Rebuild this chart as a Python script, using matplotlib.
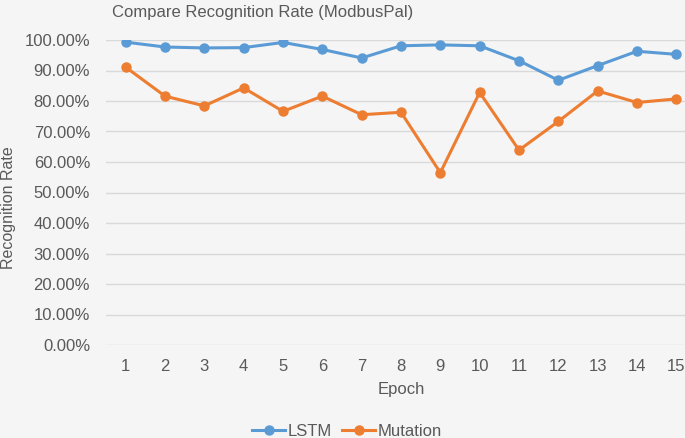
import matplotlib
matplotlib.use("Agg")
import matplotlib.pyplot as plt
from matplotlib.ticker import PercentFormatter

# values (percent)
epochs = list(range(1, 16))
lstm = [99.3, 97.7, 97.4, 97.5, 99.2, 96.9, 94.1, 98.1, 98.4, 98.1, 93.2, 86.8, 91.6, 96.3, 95.3]
mutation = [91.1, 81.6, 78.4, 84.3, 76.6, 81.6, 75.5, 76.3, 56.5, 82.8, 63.9, 73.3, 83.3, 79.5, 80.7]

bg = '#f5f5f5'
text_col = '#595959'
plt.rcParams['font.family'] = ['Liberation Sans', 'DejaVu Sans']

fig = plt.figure(figsize=(6.85, 4.38), dpi=100, facecolor=bg)
ax = fig.add_axes([106 / 685, 1 - 345 / 438, (696 - 106) / 685, 305 / 438])
ax.set_facecolor(bg)

ax.plot(epochs, lstm, color='#5b9bd5', lw=2.2, marker='o', ms=6.5, label='LSTM')
ax.plot(epochs, mutation, color='#ed7d31', lw=2.2, marker='o', ms=6.5, label='Mutation')

ax.set_xlim(0.5, 15.5)
ax.set_ylim(0, 100)
ax.set_yticks(range(0, 101, 10))
ax.yaxis.set_major_formatter(PercentFormatter(decimals=2))
ax.set_xticks(epochs)
ax.grid(axis='y', color='#d9d9d9', lw=1)
ax.set_axisbelow(True)
for s in ax.spines.values():
    s.set_visible(False)
ax.tick_params(length=0, labelsize=12, colors=text_col)
ax.tick_params(axis='y', pad=11.5)
ax.tick_params(axis='x', pad=10)

ax.set_xlabel('Epoch', fontsize=12, color=text_col, labelpad=6)
ax.set_ylabel('Recognition Rate', fontsize=11.5, color=text_col)
ax.yaxis.set_label_coords(-0.153, 0.45)
fig.text(263 / 685, 1 - 12 / 438, 'Compare Recognition Rate (ModbusPal)',
         ha='center', va='center', fontsize=12, color=text_col)

fig.legend(loc='center', bbox_to_anchor=(347 / 685, 1 - 431 / 438), ncol=2,
           frameon=False, fontsize=12, labelcolor=text_col,
           handlelength=2.0, handletextpad=0.15, columnspacing=0.6)

fig.savefig('out.png', dpi=100, facecolor=bg)
